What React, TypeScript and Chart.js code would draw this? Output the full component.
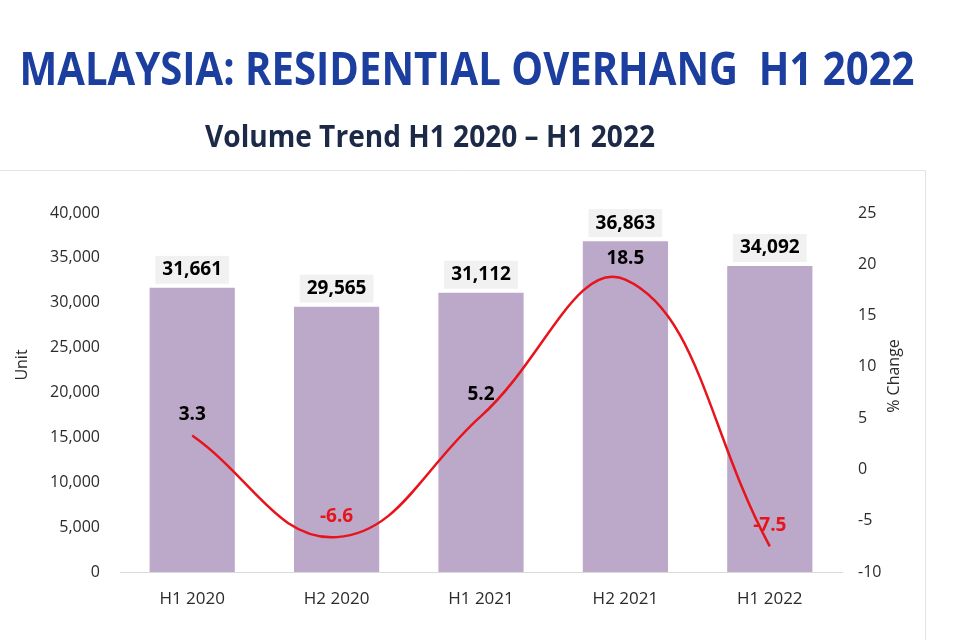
import React, { useEffect, useRef } from "react";
import { Chart, registerables } from "chart.js";

Chart.register(...registerables);

// ---------- data ----------
const categories = ["H1 2020", "H2 2020", "H1 2021", "H2 2021", "H1 2022"];
const unitValues = [31661, 29565, 31112, 36863, 34092];
const pctChange = [3.3, -6.6, 5.2, 18.5, -7.5];
const unitAxis = { min: 0, max: 40000, step: 5000 };
const pctAxis = { min: -10, max: 25, step: 5 };

const TITLE = "MALAYSIA: RESIDENTIAL OVERHANG  H1 2022";
const SUBTITLE = "Volume Trend H1 2020 \u2013 H1 2022";
const LEFT_TITLE = "Unit";
const RIGHT_TITLE = "% Change";

// ---------- style ----------
const FONT = "'Open Sans', 'Noto Sans', sans-serif";
const BAR_COLOR = "#bca8c9";
const LINE_COLOR = "#e8141b";
const TICK_COLOR = "#2b2b2b";

function drawFitted(
  ctx: CanvasRenderingContext2D,
  text: string,
  cx: number,
  cy: number,
  size: number,
  targetW: number,
  color: string
) {
  ctx.save();
  ctx.font = `bold ${size}px ${FONT}`;
  const w = ctx.measureText(text).width;
  const sx = targetW / w;
  ctx.translate(cx, cy);
  ctx.scale(sx, 1);
  ctx.fillStyle = color;
  ctx.textAlign = "center";
  ctx.textBaseline = "middle";
  ctx.fillText(text, 0, 0);
  ctx.restore();
}

const overlayPlugin = {
  id: "overlay",
  beforeDraw(chart: any) {
    const ctx: CanvasRenderingContext2D = chart.ctx;
    ctx.save();
    ctx.fillStyle = "#ffffff";
    ctx.fillRect(0, 0, chart.width, chart.height);
    // container border
    ctx.strokeStyle = "#e3e3e3";
    ctx.lineWidth = 1;
    ctx.beginPath();
    ctx.moveTo(0, 170.5);
    ctx.lineTo(925.5, 170.5);
    ctx.lineTo(925.5, 640);
    ctx.stroke();
    ctx.restore();

    drawFitted(ctx, TITLE, 467, 72, 46, 895, "#1b3e9f");
    drawFitted(ctx, SUBTITLE, 430, 138, 30, 450, "#1c2a48");

    // axis titles
    ctx.save();
    ctx.font = `16px ${FONT}`;
    ctx.fillStyle = TICK_COLOR;
    ctx.textAlign = "center";
    ctx.textBaseline = "middle";
    ctx.translate(22, 365);
    ctx.rotate(-Math.PI / 2);
    ctx.fillText(LEFT_TITLE, 0, 0);
    ctx.restore();

    ctx.save();
    ctx.font = `16px ${FONT}`;
    ctx.fillStyle = TICK_COLOR;
    ctx.textAlign = "center";
    ctx.textBaseline = "middle";
    ctx.translate(894, 376);
    ctx.rotate(-Math.PI / 2);
    ctx.fillText(RIGHT_TITLE, 0, 0);
    ctx.restore();
  },
  afterDatasetsDraw(chart: any) {
    const ctx: CanvasRenderingContext2D = chart.ctx;
    const barMeta = chart.getDatasetMeta(1);
    const lineMeta = chart.getDatasetMeta(0);
    ctx.save();
    ctx.font = `bold 19px ${FONT}`;
    ctx.textAlign = "center";
    ctx.textBaseline = "middle";
    barMeta.data.forEach((el: any, i: number) => {
      const txt = unitValues[i].toLocaleString("en-US");
      const w = ctx.measureText(txt).width + 14;
      const h = 28;
      const cy = el.y - 18;
      ctx.fillStyle = "#f1f1f1";
      ctx.fillRect(el.x - w / 2, cy - h / 2, w, h);
      ctx.fillStyle = "#000000";
      ctx.fillText(txt, el.x, cy);
    });
    lineMeta.data.forEach((el: any, i: number) => {
      const v = pctChange[i];
      ctx.fillStyle = v < 0 ? LINE_COLOR : "#000000";
      ctx.fillText(v.toFixed(1), el.x, el.y - 21);
    });
    ctx.restore();
  },
};

export default function App() {
  const ref = useRef<HTMLCanvasElement | null>(null);

  useEffect(() => {
    document.body.style.margin = "0";
    const canvas = ref.current;
    if (!canvas) return;
    const chart = new Chart(canvas, {
      type: "bar",
      data: {
        labels: categories,
        datasets: [
          {
            type: "line",
            label: RIGHT_TITLE,
            data: pctChange,
            yAxisID: "yPct",
            borderColor: LINE_COLOR,
            borderWidth: 2.5,
            tension: 0.42,
            pointRadius: 0,
            fill: false,
            order: 0,
          } as any,
          {
            type: "bar",
            label: LEFT_TITLE,
            data: unitValues,
            yAxisID: "yUnit",
            backgroundColor: BAR_COLOR,
            categoryPercentage: 1,
            barPercentage: 0.59,
            order: 1,
          },
        ],
      },
      options: {
        responsive: false,
        animation: false,
        layout: { padding: { top: 213, left: 0, right: 0, bottom: 0 } },
        plugins: {
          legend: { display: false },
          tooltip: { enabled: false },
          title: { display: false },
        },
        scales: {
          x: {
            grid: { display: false, drawTicks: false },
            border: { display: true, color: "#d9d9d9", width: 1 },
            ticks: {
              color: TICK_COLOR,
              font: { family: FONT, size: 17 },
              padding: 17,
              maxRotation: 0,
            },
            afterFit: (s: any) => {
              s.height = 68;
            },
          },
          yUnit: {
            position: "left",
            min: unitAxis.min,
            max: unitAxis.max,
            grid: { display: false, drawTicks: false },
            border: { display: false },
            ticks: {
              stepSize: unitAxis.step,
              color: TICK_COLOR,
              font: { family: FONT, size: 16 },
              padding: 20,
              callback: (v: any) => Number(v).toLocaleString("en-US"),
            },
            afterFit: (s: any) => {
              s.width = 120;
            },
          },
          yPct: {
            position: "right",
            min: pctAxis.min,
            max: pctAxis.max,
            grid: { display: false, drawTicks: false },
            border: { display: false },
            ticks: {
              stepSize: pctAxis.step,
              color: TICK_COLOR,
              font: { family: FONT, size: 16 },
              padding: 16,
            },
            afterFit: (s: any) => {
              s.width = 118;
            },
          },
        },
      },
      plugins: [overlayPlugin],
    });
    return () => chart.destroy();
  }, []);

  return (
    <div style={{ width: 960, height: 640 }}>
      <canvas ref={ref} width={960} height={640} style={{ display: "block" }} />
    </div>
  );
}
